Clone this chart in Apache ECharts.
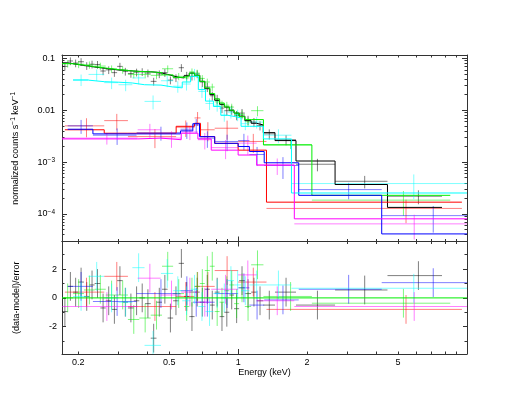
<!DOCTYPE html>
<html><head><meta charset="utf-8">
<script src="https://cdn.jsdelivr.net/npm/echarts@6/dist/echarts.min.js"></script>
<style>html,body{margin:0;padding:0;background:#fff}#c{width:529px;height:409px}</style>
</head><body><div id="c"></div>
<script>
// ---------- axis ranges & ticks ----------
const xMin = 0.17, xMax = 10;
const topYMin = 2.95e-5, topYMax = 0.116;
const resYMin = -3.9, resYMax = 3.92;
const xLabelValues = [0.2, 0.5, 1, 2, 5];
const xMajorTicks = [1, 10];
const xMinorTicks = [0.2, 0.3, 0.4, 0.5, 0.6, 0.7, 0.8, 0.9, 2, 3, 4, 5, 6, 7, 8, 9];
const yTopLabelValues = [1e-4, 1e-3, 0.01, 0.1];
const yTopMinorTicks = [3e-5, 4e-5, 5e-5, 6e-5, 7e-5, 8e-5, 9e-5,
  2e-4, 3e-4, 4e-4, 5e-4, 6e-4, 7e-4, 8e-4, 9e-4,
  2e-3, 3e-3, 4e-3, 5e-3, 6e-3, 7e-3, 8e-3, 9e-3,
  0.02, 0.03, 0.04, 0.05, 0.06, 0.07, 0.08, 0.09];
const resLabelValues = [-2, 0, 2];
const resMinorTicks = [-3, -1, 1, 3];

// ---------- black ----------
const blackEdges = [0.170,0.180,0.190,0.200,0.212,0.224,0.236,0.250,0.264,0.280,0.296,0.313,0.330,0.350,0.370,0.392,0.415,0.440,0.465,0.492,0.520,0.550,0.580,0.612,0.645,0.680,0.715,0.752,0.790,0.830,0.870,0.915,0.960,1.01,1.07,1.14,1.205,1.288,1.449,1.79,2.652,4.493,7.776];
const blackModel = [0.082,0.079,0.076,0.073,0.071,0.068,0.066,0.064,0.062,0.060,0.059,0.058,0.057,0.056,0.0555,0.055,0.054,0.052,0.049,0.046,0.043,0.042,0.046,0.052,0.047,0.036,0.026,0.020,0.0155,0.0130,0.0115,0.0098,0.0088,0.0077,0.0063,0.0056,0.0052,0.0037,0.0026,0.00105,0.00037,0.000134];
const blackData = [0.070,0.089,0.081,0.086,0.072,0.077,0.076,0.057,0.060,0.053,0.070,0.056,0.051,0.054,0.055,0.052,0.036,0.050,0.053,0.038,0.042,0.066,0.047,0.045,0.050,0.035,0.028,0.019,0.0165,0.0110,0.0098,0.0102,0.0080,0.0088,0.0065,0.0059,0.0051,0.0035,0.0027,0.00091,0.000427,0.00022];
const blackErr = [0.17,0.17,0.17,0.17,0.17,0.17,0.17,0.17,0.17,0.17,0.17,0.17,0.17,0.17,0.17,0.17,0.17,0.17,0.17,0.17,0.17,0.17,0.17,0.17,0.17,0.2,0.2,0.2,0.2,0.2,0.2,0.2,0.2,0.2,0.2,0.2,0.2,0.22,0.22,0.27,0.27,0.3];
const blackResid = [-0.95,0.8,0.4,1.1,0.1,0.9,1.0,-0.7,-0.2,-0.8,1.2,-0.3,-0.7,-0.2,0.0,-0.4,-2.8,-0.3,0.6,-1.4,-0.2,2.4,0.1,-1.3,0.4,-0.3,0.6,-0.5,0.4,-1.3,-1.0,0.2,-0.75,1.2,0.3,0.4,-0.2,-0.5,0.4,-0.5,0.55,1.55];

// ---------- green ----------
const greenEdges = [0.170,0.190,0.212,0.236,0.264,0.296,0.330,0.370,0.415,0.465,0.520,0.580,0.612,0.645,0.680,0.715,0.752,0.790,0.830,0.870,0.915,0.960,1.01,1.07,1.14,1.29,2.10,8.45];
const greenModel = [0.079,0.074,0.069,0.065,0.061,0.058,0.056,0.055,0.053,0.048,0.043,0.046,0.052,0.047,0.036,0.027,0.021,0.0165,0.0138,0.0116,0.0100,0.0088,0.0075,0.0066,0.0066,0.00214,0.000229];
const greenData = [0.079,0.077,0.075,0.071,0.063,0.060,0.049,0.049,0.047,0.063,0.045,0.042,0.055,0.052,0.041,0.035,0.028,0.0145,0.0132,0.0125,0.0115,0.0083,0.0083,0.0060,0.0098,0.00218,0.000185];
const greenErr = [0.16,0.16,0.16,0.16,0.16,0.16,0.16,0.16,0.16,0.16,0.16,0.16,0.16,0.16,0.16,0.16,0.16,0.16,0.16,0.16,0.16,0.16,0.2,0.2,0.22,0.18,0.5];
const greenResid = [0.0,0.3,0.55,0.6,0.2,0.2,-1.5,-1.4,-1.2,2.2,0.3,-0.6,0.4,0.8,1.0,1.9,2.2,-0.95,-0.3,0.5,0.9,-0.4,0.7,-0.6,2.3,0.1,-0.37];

// ---------- cyan ----------
const cyanEdges = [0.19,0.222,0.26,0.30,0.345,0.39,0.46,0.52,0.57,0.62,0.67,0.72,0.78,0.84,0.90,0.96,1.03,1.12,1.29,1.71,10.0];
const cyanModel = [0.038,0.0355,0.0347,0.0335,0.031,0.0305,0.028,0.027,0.035,0.045,0.025,0.015,0.0118,0.0080,0.0076,0.0071,0.0049,0.0049,0.0028,0.000254];
const cyanData = [0.039,0.049,0.034,0.031,0.042,0.0148,0.037,0.029,0.032,0.050,0.023,0.0135,0.0125,0.0080,0.0092,0.0082,0.0055,0.0059,0.0033,0.000386];
const cyanErr = [0.25,0.25,0.25,0.25,0.25,0.3,0.25,0.25,0.25,0.25,0.25,0.25,0.25,0.25,0.25,0.25,0.25,0.25,0.3,0.5];
const cyanResid = [0.1,1.5,0.0,-0.3,2.1,-3.3,1.7,0.5,-0.2,0.6,-0.6,-0.95,0.3,0.0,1.2,0.9,0.5,0.9,0.9,0.67];

// ---------- red ----------
const redEdges = [0.175,0.26,0.33,0.536,0.645,0.685,0.79,1.0,1.33,9.5];
const redModel = [0.0042,0.0036,0.0036,0.0049,0.0056,0.0031,0.0023,0.0017,0.000169];
const redData = [0.0050,0.0063,0.0031,0.0047,0.0071,0.0042,0.0045,0.0025,0.000128];
const redErr = [0.4,0.35,0.4,0.35,0.3,0.4,0.4,0.4,0.48];
const redResid = [0.4,1.5,-0.6,0.1,0.8,0.8,1.9,1.1,-0.8];

// ---------- blue ----------
const blueEdges = [0.18,0.232,0.36,0.56,0.634,0.678,0.79,1.0,1.12,1.30,1.84,4.24,10.0];
const blueModel = [0.0043,0.0035,0.0035,0.0040,0.0055,0.0031,0.0023,0.0020,0.0016,0.00097,0.000229,0.0000413];
const blueData = [0.0050,0.0033,0.0037,0.0043,0.0052,0.0029,0.0025,0.0026,0.0014,0.00086,0.000295,0.000093];
const blueErr = [0.3,0.35,0.3,0.35,0.3,0.35,0.35,0.35,0.4,0.45,0.35,0.53];
const blueResid = [0.8,-0.25,0.3,0.5,-0.3,-0.3,0.3,0.7,-0.5,-0.14,0.6,1.06];

// ---------- magenta ----------
const magentaEdges = [0.17,0.364,0.459,0.564,0.667,0.763,1.0,1.205,1.76,10.0];
const magentaModel = [0.0028,0.0029,0.0027,0.0036,0.0028,0.0017,0.00137,0.00088,0.0000807];
const magentaData = [0.0029,0.0042,0.0029,0.0038,0.0027,0.0019,0.00232,0.00087,0.0000645];
const magentaErr = [0.25,0.3,0.35,0.3,0.35,0.4,0.4,0.35,0.5];
const magentaResid = [-0.6,1.37,0.2,0.4,-0.3,0.6,1.6,-0.2,-0.6];

// ---------- build ----------
const FONT = "'Liberation Sans', Arial, Helvetica, sans-serif";
const AXC = '#333';
const sets = [
  {c:'#000000', e:blackEdges, m:blackModel, d:blackData, err:blackErr, r:blackResid},
  {c:'#ff0000', e:redEdges, m:redModel, d:redData, err:redErr, r:redResid},
  {c:'#00ee00', e:greenEdges, m:greenModel, d:greenData, err:greenErr, r:greenResid},
  {c:'#0000ff', e:blueEdges, m:blueModel, d:blueData, err:blueErr, r:blueResid},
  {c:'#00ffff', e:cyanEdges, m:cyanModel, d:cyanData, err:cyanErr, r:cyanResid},
  {c:'#ff00ff', e:magentaEdges, m:magentaModel, d:magentaData, err:magentaErr, r:magentaResid}
];
function crossData(edges, vals, errs) {
  return vals.map((v, i) => { const lo = edges[i], hi = edges[i+1];
    return [(lo+hi)/2, lo, hi, v, v*(1-errs[i]), v*(1+errs[i])]; });
}
function residData(edges, res) {
  return res.map((r, i) => { const lo = edges[i], hi = edges[i+1];
    return [(lo+hi)/2, lo, hi, r, r-1, r+1]; });
}
function stepData(edges, model) {
  return edges.map((e, i) => [e, model[Math.min(i, model.length-1)]]);
}
function crossRender(color) {
  return function (params, api) {
    const xc = api.value(0), xlo = api.value(1), xhi = api.value(2);
    const y = api.value(3), ylo = api.value(4), yhi = api.value(5);
    const a = api.coord([xlo, y]), b = api.coord([xhi, y]);
    const c = api.coord([xc, ylo]), d = api.coord([xc, yhi]);
    const st = {stroke: color, lineWidth: 1, opacity: 0.5};
    return {type: 'group', children: [
      {type: 'line', shape: {x1: a[0], y1: a[1], x2: b[0], y2: b[1]}, style: st},
      {type: 'line', shape: {x1: c[0], y1: c[1], x2: d[0], y2: d[1]}, style: st}
    ]};
  };
}
const supRich = {sup: {fontSize: 6.5, verticalAlign: 'top', lineHeight: 7, fontFamily: FONT, color: '#000'}};

function xAx(grid, pos, type, min, max, ticks, len, labels, line, name) {
  const o = {type, gridIndex: grid, position: pos, min, max, logBase: 10,
    axisLine: {show: line, onZero: false, lineStyle: {color: AXC, width: 1}},
    axisTick: {show: true, inside: true, length: len, customValues: ticks, lineStyle: {color: AXC, width: 1}},
    axisLabel: labels ? {show: true, customValues: labels, fontSize: 9, fontFamily: FONT, color: '#000', margin: 4,
      formatter: v => String(+(+v).toPrecision(2))} : {show: false},
    splitLine: {show: false}, minorTick: {show: false}};
  if (name) Object.assign(o, name);
  return o;
}
function yAx(grid, pos, type, min, max, ticks, len, labels, fmt, line, name, margin) {
  const o = {type, gridIndex: grid, position: pos, min, max, logBase: 10,
    axisLine: {show: line, onZero: false, lineStyle: {color: AXC, width: 1}},
    axisTick: {show: true, inside: true, length: len, customValues: ticks, lineStyle: {color: AXC, width: 1}},
    axisLabel: labels ? {show: true, customValues: labels, fontSize: 9, fontFamily: FONT, color: '#000', margin: margin,
      lineHeight: 11, formatter: fmt, rich: supRich} : {show: false},
    splitLine: {show: false}, minorTick: {show: false}};
  if (name) Object.assign(o, name);
  return o;
}
const logFmt = v => { const e = Math.round(Math.log10(v));
  return e >= -2 ? String(+(+v).toPrecision(1)) : '10{sup|\u2212' + (-e) + '}'; };
const linFmt = v => String(v);

const xAxis = [
  xAx(0, 'bottom', 'log', xMin, xMax, xMajorTicks, 5, null, true),
  xAx(0, 'bottom', 'log', xMin, xMax, xMinorTicks, 2.5, null, false),
  xAx(0, 'top', 'log', xMin, xMax, xMajorTicks, 5, null, true),
  xAx(0, 'top', 'log', xMin, xMax, xMinorTicks, 2.5, null, false),
  xAx(1, 'bottom', 'log', xMin, xMax, xMajorTicks, 5, xLabelValues, true,
      {name: 'Energy (keV)', nameLocation: 'middle', nameGap: 14,
       nameTextStyle: {fontSize: 9, fontFamily: FONT, color: '#000'}}),
  xAx(1, 'bottom', 'log', xMin, xMax, xMinorTicks, 2.5, null, false),
  xAx(1, 'top', 'log', xMin, xMax, xMajorTicks, 5, null, true),
  xAx(1, 'top', 'log', xMin, xMax, xMinorTicks, 2.5, null, false)
];
const yAxis = [
  yAx(0, 'left', 'log', topYMin, topYMax, yTopLabelValues, 5, yTopLabelValues, logFmt, true,
      {name: 'normalized counts s{sup|\u22121} keV{sup|\u22121}', nameLocation: 'middle', nameGap: 41,
       nameTextStyle: {fontSize: 9, fontFamily: FONT, color: '#000', lineHeight: 11, rich: supRich}}, 7),
  yAx(0, 'left', 'log', topYMin, topYMax, yTopMinorTicks, 2.5, null, null, false),
  yAx(0, 'right', 'log', topYMin, topYMax, yTopLabelValues, 5, null, null, true),
  yAx(0, 'right', 'log', topYMin, topYMax, yTopMinorTicks, 2.5, null, null, false),
  yAx(1, 'left', 'value', resYMin, resYMax, resLabelValues, 4, resLabelValues, linFmt, true,
      {name: '(data-model)/error', nameLocation: 'middle', nameGap: 41,
       nameTextStyle: {fontSize: 9, fontFamily: FONT, color: '#000'}}, 5),
  yAx(1, 'left', 'value', resYMin, resYMax, resMinorTicks, 2.5, null, null, false),
  yAx(1, 'right', 'value', resYMin, resYMax, resLabelValues, 4, null, null, true),
  yAx(1, 'right', 'value', resYMin, resYMax, resMinorTicks, 2.5, null, null, false)
];

const series = [];
sets.forEach(s => {
  series.push({type: 'custom', xAxisIndex: 0, yAxisIndex: 0, clip: true, silent: true,
    renderItem: crossRender(s.c), encode: {x: [0,1,2], y: [3,4,5]}, data: crossData(s.e, s.d, s.err), z: 2});
  series.push({type: 'custom', xAxisIndex: 4, yAxisIndex: 4, clip: true, silent: true,
    renderItem: crossRender(s.c), encode: {x: [0,1,2], y: [3,4,5]}, data: residData(s.e, s.r), z: 2});
});
series.push({type: 'line', xAxisIndex: 4, yAxisIndex: 4, data: [[xMin, 0], [xMax, 0]], symbol: 'none',
  lineStyle: {color: '#00ee00', width: 1}, silent: true, z: 3});
sets.forEach(s => {
  series.push({type: 'line', xAxisIndex: 0, yAxisIndex: 0, step: 'end', data: stepData(s.e, s.m),
    symbol: 'none', showSymbol: false, lineStyle: {color: s.c, width: 1}, silent: true, z: 3});
});

const chart = echarts.init(document.getElementById('c'), null, {renderer: 'canvas'});
chart.setOption({
  animation: false,
  backgroundColor: '#fff',
  grid: [
    {left: 62, top: 55, width: 405, height: 186.5, containLabel: false},
    {left: 62, top: 241.5, width: 405, height: 112.5, containLabel: false}
  ],
  xAxis, yAxis, series
});
</script>
</body></html>
